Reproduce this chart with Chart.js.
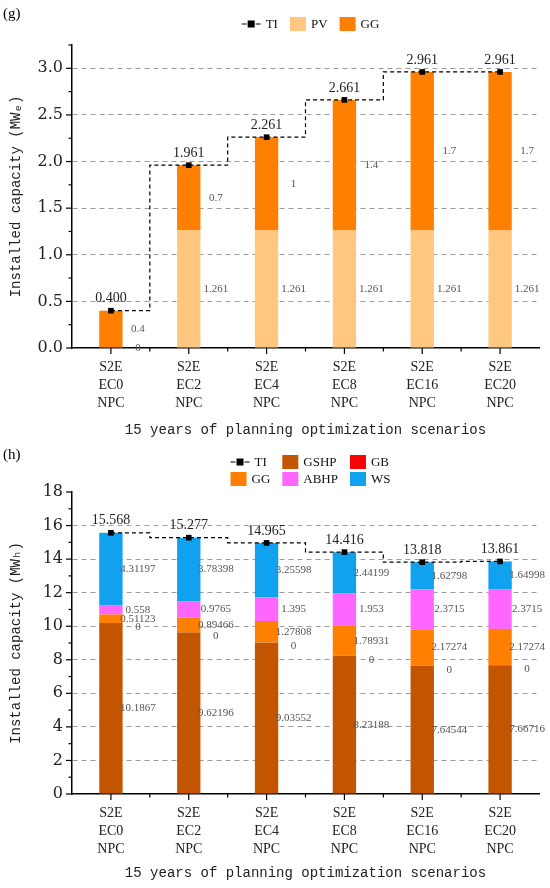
<!DOCTYPE html>
<html>
<head>
<meta charset="utf-8">
<script src="https://cdn.jsdelivr.net/npm/chart.js@4.4.0/dist/chart.umd.min.js"></script>
<style>
  body { margin: 0; background: #fff; }
  #wrap { position: relative; width: 550px; height: 888px; }
  .box { position: absolute; left: 0; width: 550px; }
</style>
</head>
<body>
<div id="wrap">
  <div class="box" style="top:0;height:445px"><canvas id="chartG"></canvas></div>
  <div class="box" style="top:445px;height:443px"><canvas id="chartH"></canvas></div>
</div>
<script>
// scenarios (x axis)
const categories = [
  ['S2E', 'EC0', 'NPC'],
  ['S2E', 'EC2', 'NPC'],
  ['S2E', 'EC4', 'NPC'],
  ['S2E', 'EC8', 'NPC'],
  ['S2E', 'EC16', 'NPC'],
  ['S2E', 'EC20', 'NPC']
];

// (g) electrical installed capacity, MWe
const elecPV = [0, 1.261, 1.261, 1.261, 1.261, 1.261];
const elecGG = [0.4, 0.7, 1, 1.4, 1.7, 1.7];
const elecTI = [0.400, 1.961, 2.261, 2.661, 2.961, 2.961];
const elecYTicks = [0, 0.5, 1.0, 1.5, 2.0, 2.5, 3.0];

// (h) heat installed capacity, MWh
const heatGSHP = [10.1867, 9.62196, 9.03552, 8.23188, 7.64544, 7.66716];
const heatGB = [0, 0, 0, 0, 0, 0];
const heatGG = [0.51123, 0.89466, 1.27808, 1.78931, 2.17274, 2.17274];
const heatABHP = [0.558, 0.9765, 1.395, 1.953, 2.3715, 2.3715];
const heatWS = [4.31197, 3.78398, 3.25598, 2.44199, 1.62798, 1.64998];
const heatTI = [15.568, 15.277, 14.965, 14.416, 13.818, 13.861];
const heatYTicks = [0, 2, 4, 6, 8, 10, 12, 14, 16, 18];

const SERIF = '"Liberation Serif", "DejaVu Serif", serif';
const TICKSERIF = '"DejaVu Serif", "Liberation Serif", serif';
const MONO = '"Liberation Mono", "DejaVu Sans Mono", monospace';

// ticks, bar value labels, point labels, legend and panel letter
const decorPlugin = {
  id: 'decor',
  afterDatasetsDraw(chart, args, opts) {
    const ctx = chart.ctx;
    const area = chart.chartArea;
    const xs = chart.scales.x;
    const ys = chart.scales.y;
    ctx.save();

    // axis tick marks (major + minor)
    ctx.strokeStyle = '#000';
    ctx.lineWidth = 1.2;
    const line = (x1, y1, x2, y2) => {
      ctx.beginPath(); ctx.moveTo(x1, y1); ctx.lineTo(x2, y2); ctx.stroke();
    };
    const yv = ys.ticks.map(t => t.value);
    yv.forEach((v, i) => {
      const py = ys.getPixelForValue(v);
      line(area.left - 6, py, area.left, py);
      const next = i < yv.length - 1 ? yv[i + 1] : v + (v - yv[i - 1]);
      const mid = (v + next) / 2;
      if (mid <= ys.max + 1e-9) {
        const pm = ys.getPixelForValue(mid);
        line(area.left - 3.5, pm, area.left, pm);
      }
    });
    const n = chart.data.labels.length;
    for (let i = 0; i < n; i++) {
      const px = xs.getPixelForValue(i);
      line(px, area.bottom, px, area.bottom + 6);
      if (i < n - 1) {
        const pb = (px + xs.getPixelForValue(i + 1)) / 2;
        line(pb, area.bottom, pb, area.bottom + 3.5);
      }
    }

    // bar segment labels
    ctx.font = '11px ' + SERIF;
    ctx.fillStyle = '#555';
    ctx.textAlign = 'center';
    ctx.textBaseline = 'middle';
    chart.data.datasets.forEach((ds, di) => {
      if (ds.type === 'line') return;
      const meta = chart.getDatasetMeta(di);
      meta.data.forEach((bar, i) => {
        const v = ds.data[i];
        let mid = (bar.y + bar.base) / 2;
        if (v === 0) mid += opts.zeroShift || 0;
        ctx.fillText(String(v), bar.x + 27, mid);
      });
    });

    // total labels above the TI markers
    chart.data.datasets.forEach((ds, di) => {
      if (ds.type !== 'line') return;
      const meta = chart.getDatasetMeta(di);
      ctx.font = '14px ' + SERIF;
      ctx.fillStyle = '#222';
      meta.data.forEach((pt, i) => {
        ctx.fillText(ds.data[i].toFixed(3), pt.x, pt.y - 12);
      });
    });
    ctx.restore();
  },
  afterDraw(chart, args, opts) {
    const ctx = chart.ctx;
    const area = chart.chartArea;
    ctx.save();
    ctx.fillStyle = '#000';
    ctx.font = '15px ' + SERIF;
    ctx.textBaseline = 'middle';
    ctx.textAlign = 'left';
    ctx.fillText(opts.panel, 3, opts.panelY);

    // legend laid out as a grid
    ctx.font = '13px ' + SERIF;
    const dss = chart.data.datasets;
    const symW = di => dss[di].type === 'line' ? 19 : 16;
    const itemW = di => symW(di) + 5 + ctx.measureText(dss[di].label).width;
    const cols = Math.max(...opts.rows.map(r => r.length));
    const colW = [];
    for (let c = 0; c < cols; c++) {
      colW.push(Math.max(...opts.rows.map(r => r[c] === undefined ? 0 : itemW(r[c]))));
    }
    const gap = 12;
    const total = colW.reduce((a, b) => a + b, 0) + gap * (cols - 1);
    const x0 = (area.left + area.right) / 2 - total / 2 + 5;
    opts.rows.forEach((row, ri) => {
      const y = opts.legendY[ri];
      let x = x0;
      row.forEach((di, c) => {
        const ds = dss[di];
        if (ds.type === 'line') {
          ctx.strokeStyle = '#000';
          ctx.lineWidth = 1.2;
          ctx.beginPath();
          ctx.moveTo(x, y); ctx.lineTo(x + 5, y);
          ctx.moveTo(x + 14, y); ctx.lineTo(x + 19, y);
          ctx.stroke();
          ctx.fillStyle = '#000';
          ctx.fillRect(x + 6, y - 3.5, 7, 7);
        } else {
          ctx.fillStyle = ds.backgroundColor;
          ctx.fillRect(x, y - 7, 16, 14);
        }
        ctx.fillStyle = '#111';
        ctx.fillText(ds.label, x + symW(di) + 5, y + 1);
        x += colW[c] + gap;
      });
    });
    ctx.restore();
  }
};

function makeScales(yMax, yTicks, yTitle, xHeight, fixed) {
  return {
    x: {
      stacked: true,
      grid: { display: false, drawTicks: false },
      border: { color: '#000', width: 1.5 },
      ticks: {
        color: '#222', padding: 10, maxRotation: 0, autoSkip: false,
        font: { family: SERIF, size: 14, lineHeight: 1.3 }
      },
      title: {
        display: true, text: '15 years of planning optimization scenarios',
        color: '#222', font: { family: MONO, size: 14 },
        padding: { top: 0, bottom: 6 }
      },
      afterFit(s) { s.height = xHeight; }
    },
    y: {
      stacked: true,
      min: 0,
      max: yMax,
      afterBuildTicks(s) { s.ticks = yTicks.map(v => ({ value: v })); },
      grid: {
        drawTicks: false,
        lineWidth: 1,
        color: c => (c.tick && c.tick.value > 0 && c.tick.value < yMax) ? '#9c9c9c' : 'rgba(0,0,0,0)'
      },
      border: { color: '#000', width: 1.5, dash: [5, 4] },
      ticks: {
        color: '#222', padding: 9,
        font: { family: TICKSERIF, size: 16 },
        callback: v => v.toFixed(fixed)
      },
      title: {
        display: true, text: yTitle, color: '#222',
        font: { family: MONO, size: 14 },
        padding: { top: 8, bottom: 0 }
      },
      afterFit(s) { s.width = 72; }
    }
  };
}

function tiDataset(values) {
  return {
    type: 'line', label: 'TI', data: values, stack: 'ti', order: 0,
    stepped: 'middle', borderColor: '#000', borderWidth: 1.2, borderDash: [4, 3],
    pointStyle: 'rect', pointRadius: 4, pointBackgroundColor: '#000',
    pointBorderColor: '#000', pointBorderWidth: 0, fill: false
  };
}

function barDataset(label, values, color) {
  return {
    type: 'bar', label: label, data: values, stack: 'bars', order: 1,
    backgroundColor: color, borderWidth: 0,
    barPercentage: 0.3, categoryPercentage: 1
  };
}

new Chart(document.getElementById('chartG'), {
  data: {
    labels: categories,
    datasets: [
      tiDataset(elecTI),
      barDataset('PV', elecPV, '#FFC77F'),
      barDataset('GG', elecGG, '#FF8000')
    ]
  },
  options: {
    responsive: true,
    maintainAspectRatio: false,
    animation: false,
    layout: { padding: { top: 45, right: 11, left: 0, bottom: 0 } },
    plugins: {
      legend: { display: false },
      tooltip: { enabled: false },
      decor: { panel: '(g)', panelY: 14, rows: [[0, 1, 2]], legendY: [24], zeroShift: 0 }
    },
    scales: makeScales(3.25, elecYTicks, 'Installed capacity (MWₑ)', 97, 1)
  },
  plugins: [decorPlugin]
});

new Chart(document.getElementById('chartH'), {
  data: {
    labels: categories,
    datasets: [
      tiDataset(heatTI),
      barDataset('GSHP', heatGSHP, '#C45500'),
      barDataset('GB', heatGB, '#FF0000'),
      barDataset('GG', heatGG, '#FF8000'),
      barDataset('ABHP', heatABHP, '#FF66FF'),
      barDataset('WS', heatWS, '#10A2EF')
    ]
  },
  options: {
    responsive: true,
    maintainAspectRatio: false,
    animation: false,
    layout: { padding: { top: 47, right: 11, left: 0, bottom: 0 } },
    plugins: {
      legend: { display: false },
      tooltip: { enabled: false },
      decor: { panel: '(h)', panelY: 10, rows: [[0, 1, 2], [3, 4, 5]], legendY: [17, 34], zeroShift: 4 }
    },
    scales: makeScales(18, heatYTicks, 'Installed capacity (MWₕ)', 94, 0)
  },
  plugins: [decorPlugin]
});
</script>
</body>
</html>
